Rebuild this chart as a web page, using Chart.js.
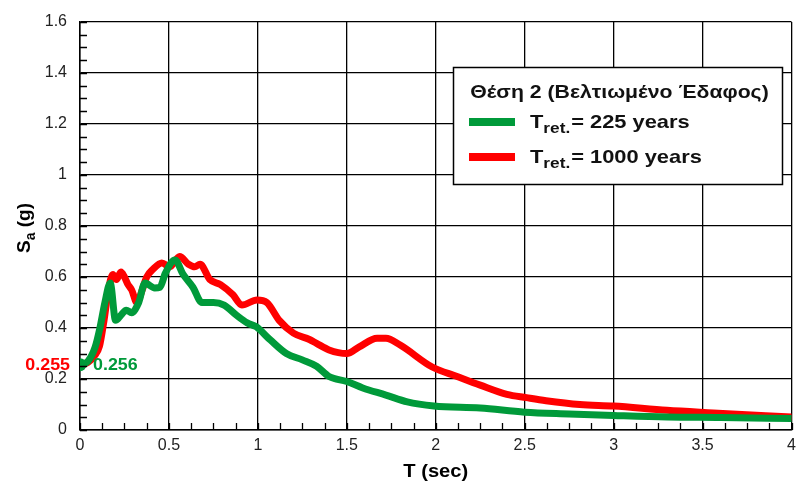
<!DOCTYPE html>
<html>
<head>
<meta charset="utf-8">
<script src="https://cdn.jsdelivr.net/npm/chart.js@4.4.1/dist/chart.umd.min.js"></script>
<style>
  html, body { margin:0; padding:0; background:#fff; }
  #wrap { width:798px; height:490px; position:relative; }
</style>
</head>
<body>
<div id="wrap"><canvas id="c"></canvas></div>
<script>
/* ════════════════════════════
   DATA
════════════════════════════ */
const T_225  = [0, 0.045, 0.085, 0.112, 0.14, 0.17, 0.20, 0.23, 0.26, 0.29, 0.33, 0.365, 0.42, 0.45, 0.48, 0.534, 0.58, 0.635, 0.685, 0.75, 0.81, 0.88, 0.94, 0.99, 1.07, 1.16, 1.25, 1.33, 1.40, 1.50, 1.59, 1.72, 1.84, 1.99, 2.25, 2.5, 2.75, 3.0, 3.3, 3.6, 4.0];
const SA_225 = [0.256, 0.27, 0.325, 0.40, 0.50, 0.576, 0.43, 0.45, 0.47, 0.46, 0.50, 0.576, 0.557, 0.56, 0.615, 0.667, 0.61, 0.56, 0.50, 0.50, 0.49, 0.45, 0.42, 0.405, 0.353, 0.30, 0.275, 0.25, 0.21, 0.19, 0.165, 0.137, 0.11, 0.094, 0.086, 0.07, 0.063, 0.057, 0.051, 0.049, 0.045];

const T_1000  = [0, 0.045, 0.08, 0.11, 0.135, 0.16, 0.185, 0.205, 0.23, 0.25, 0.27, 0.29, 0.32, 0.35, 0.375, 0.41, 0.46, 0.505, 0.56, 0.61, 0.645, 0.675, 0.73, 0.79, 0.86, 0.91, 0.995, 1.05, 1.12, 1.20, 1.29, 1.33, 1.40, 1.50, 1.57, 1.67, 1.72, 1.80, 1.98, 2.12, 2.25, 2.40, 2.51, 2.62, 2.81, 3.0, 3.3, 3.56, 4.0];
const SA_1000 = [0.255, 0.265, 0.29, 0.33, 0.43, 0.55, 0.61, 0.59, 0.62, 0.60, 0.57, 0.55, 0.50, 0.55, 0.60, 0.63, 0.655, 0.64, 0.68, 0.65, 0.64, 0.65, 0.59, 0.57, 0.53, 0.49, 0.51, 0.50, 0.43, 0.38, 0.355, 0.34, 0.314, 0.30, 0.326, 0.36, 0.36, 0.333, 0.247, 0.21, 0.176, 0.14, 0.127, 0.115, 0.10, 0.094, 0.077, 0.067, 0.051];

const X_TICKS = [0, 0.5, 1, 1.5, 2, 2.5, 3, 3.5, 4];
const Y_TICKS = [0, 0.2, 0.4, 0.6, 0.8, 1, 1.2, 1.4, 1.6];

const LEGEND_TITLE = 'Θέση 2 (Βελτιωμένο Έδαφος)';
const SERIES = [
  { years:'225 years',  color:'#009a3a' },
  { years:'1000 years', color:'#ff0000' },
];

const toPts = (xs, ys) => xs.map((x, i) => ({ x, y: ys[i] }));
const FONT = '"Liberation Sans", Arial, sans-serif';

// text drawn a bit wider than the font, like the original export
function wideText(ctx, txt, x, y, sx) {
  ctx.save();
  ctx.translate(x, y);
  ctx.scale(sx, 1);
  ctx.fillText(txt, 0, 0);
  ctx.restore();
  return ctx.measureText(txt).width * sx;
}

/* ════════════════════════════
   PLUGIN: minor ticks, titles, legend, labels
════════════════════════════ */
const decor = {
  id: 'decor',
  afterDatasetsDraw(chart) {
    const { ctx, chartArea: a, scales: { x, y } } = chart;
    ctx.save();
    // minor ticks (inward)
    ctx.strokeStyle = '#000';
    ctx.lineWidth = 1.3;
    ctx.beginPath();
    for (let v = 0; v <= 1.6001; v += 0.05) {
      const py = Math.round(y.getPixelForValue(v)) + 0.5;
      ctx.moveTo(a.left, py); ctx.lineTo(a.left + 7, py);
    }
    for (let v = 0; v <= 4.0001; v += 0.125) {
      const px = Math.round(x.getPixelForValue(v)) + 0.5;
      ctx.moveTo(px, a.bottom); ctx.lineTo(px, a.bottom - 7);
    }
    ctx.stroke();

    // start value labels
    const py0 = y.getPixelForValue(SA_225[0]);
    ctx.font = 'bold 17px ' + FONT;
    ctx.textBaseline = 'middle';
    ctx.fillStyle = SERIES[1].color;
    ctx.textAlign = 'left';
    const wr = ctx.measureText(SA_1000[0].toFixed(3)).width * 1.05;
    wideText(ctx, SA_1000[0].toFixed(3), a.left - 10 - wr, py0 + 1, 1.05);
    ctx.fillStyle = SERIES[0].color;
    wideText(ctx, SA_225[0].toFixed(3), a.left + 13, py0 + 1, 1.05);

    // axis titles
    ctx.fillStyle = '#000';
    ctx.textBaseline = 'alphabetic';
    ctx.textAlign = 'left';
    ctx.font = 'bold 18px ' + FONT;
    const wt = ctx.measureText('T (sec)').width * 1.12;
    wideText(ctx, 'T (sec)', (a.left + a.right) / 2 - wt / 2, 477, 1.12);

    ctx.save();
    ctx.translate(30, 228);
    ctx.rotate(-Math.PI / 2);
    const big = 'bold 19px ' + FONT;
    const small = 'bold 14px ' + FONT;
    ctx.font = big;
    const wS = ctx.measureText('S').width;
    ctx.font = small;
    const wa = ctx.measureText('a').width;
    ctx.font = big;
    const wg = ctx.measureText(' (g)').width;
    let sx = -(wS + wa + wg) / 2;
    ctx.fillText('S', sx, 0); sx += wS;
    ctx.font = small; ctx.fillText('a', sx, 5); sx += wa;
    ctx.font = big; ctx.fillText(' (g)', sx, 0);
    ctx.restore();

    // legend box
    const bx = 453, by = 67, bw = 329, bh = 117;
    ctx.fillStyle = '#fff';
    ctx.fillRect(bx, by, bw, bh);
    ctx.strokeStyle = '#000';
    ctx.lineWidth = 1.5;
    ctx.strokeRect(bx + 0.5, by + 0.5, bw, bh);
    ctx.fillStyle = '#111';
    ctx.font = 'bold 18px ' + FONT;
    const wTitle = ctx.measureText(LEGEND_TITLE).width * 1.18;
    wideText(ctx, LEGEND_TITLE, bx + bw / 2 + 2 - wTitle / 2, 98, 1.18);

    SERIES.forEach((s, i) => {
      const ly = 122 + i * 35;
      ctx.strokeStyle = s.color;
      ctx.lineWidth = 8;
      ctx.lineCap = 'butt';
      ctx.beginPath(); ctx.moveTo(469, ly); ctx.lineTo(515, ly); ctx.stroke();
      let tx = 530;
      ctx.fillStyle = '#111';
      ctx.font = 'bold 19px ' + FONT;
      tx += wideText(ctx, 'T', tx, ly + 6, 1.15);
      ctx.font = 'bold 15px ' + FONT;
      tx += wideText(ctx, 'ret.', tx, ly + 11, 1.15) + 1;
      ctx.font = 'bold 19px ' + FONT;
      wideText(ctx, '= ' + s.years, tx, ly + 6, 1.15);
    });
    ctx.restore();
  }
};

/* ════════════════════════════
   CHART
════════════════════════════ */
const gridOpts = { color:'#000', lineWidth:1.3, drawTicks:false };
const tickFont = { family: FONT, size:16 };
const fmt = v => String(+(+v).toFixed(2));

new Chart(document.getElementById('c'), {
  type: 'line',
  data: {
    datasets: [
      {
        label: 'T ret. = ' + SERIES[0].years,
        data: toPts(T_225, SA_225),
        borderColor: SERIES[0].color,
        backgroundColor: SERIES[0].color,
        borderWidth: 7,
        pointRadius: ctx => ctx.dataIndex === 0 ? 6.5 : 0,
        pointBorderWidth: 0,
        cubicInterpolationMode: 'monotone',
        borderJoinStyle: 'round',
        borderCapStyle: 'round',
      },
      {
        label: 'T ret. = ' + SERIES[1].years,
        data: toPts(T_1000, SA_1000),
        borderColor: SERIES[1].color,
        backgroundColor: SERIES[1].color,
        borderWidth: 7,
        pointRadius: 0,
        cubicInterpolationMode: 'monotone',
        borderJoinStyle: 'round',
        borderCapStyle: 'round',
      }
    ]
  },
  options: {
    responsive: true, maintainAspectRatio: false, animation: false,
    layout: { padding: { top: 22, right: 6, left: 0, bottom: 0 } },
    plugins: { legend: { display:false }, tooltip: { enabled:false } },
    scales: {
      x: {
        type: 'linear', min: 0, max: 4,
        afterBuildTicks: s => { s.ticks = X_TICKS.map(v => ({ value: v })); },
        afterFit: s => { s.height = 60; s.paddingRight = 0; },
        grid: gridOpts,
        border: { color:'#000', width:1.5 },
        ticks: { font: tickFont, color:'#222', padding: 6, maxRotation: 0, callback: fmt }
      },
      y: {
        type: 'linear', min: 0, max: 1.6,
        afterBuildTicks: s => { s.ticks = Y_TICKS.map(v => ({ value: v })); },
        afterFit: s => { s.width = 80; s.paddingTop = 0; },
        grid: gridOpts,
        border: { color:'#000', width:1.5 },
        ticks: { font: tickFont, color:'#222', padding: 13, callback: fmt }
      }
    }
  },
  plugins: [decor]
});
</script>
</body>
</html>
